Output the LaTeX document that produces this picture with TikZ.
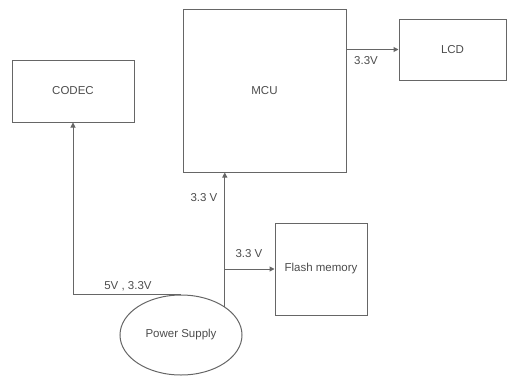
\documentclass[tikz,border=0pt]{standalone}
\usepackage{fontspec}
\setmainfont{Liberation Sans}
\usepackage{tikz}
\usetikzlibrary{shapes,arrows.meta,positioning}
\tikzset{
  blk/.style = {draw=black!60, line width=1pt, rectangle, inner sep=0pt, align=center, text=black!70, font=\fontsize{11.5}{13}\selectfont},
  pwr/.style = {draw=black!60, line width=1pt, ellipse, inner sep=0pt, minimum width=122pt, minimum height=80pt, text=black!70, font=\fontsize{11.5}{13}\selectfont},
  arrow/.style = {draw=black!60, line width=1pt, -{Triangle[length=5pt,width=5pt]}},
  lbl/.style = {text=black!70, font=\fontsize{11.5}{13}\selectfont, inner sep=0pt}
}
\begin{document}
\begin{tikzpicture}[x=1pt,y=-1pt]
            \useasboundingbox (0,0) rectangle (512,378);
            \node[blk, minimum width=122pt, minimum height=62pt] (codec) at (73,91) {CODEC};
            \node[blk, minimum width=163pt, minimum height=163pt] (mcu) at (264.5,90.5) {MCU};
            \node[blk, minimum width=107pt, minimum height=61pt] (lcd) at (452.5,49.5) {LCD};
            \node[blk, minimum width=92pt, minimum height=92pt] (flash) at (321,269) {Flash memory};
            \node[pwr] (ps) at (181,335) {Power Supply};
            \draw[arrow] (mcu.east |- lcd.west) -- (lcd.west);
            \draw[arrow] (ps.north) -| (codec.south);
            \draw[arrow] (ps.33) -- (ps.33 |- mcu.south);
            \draw[arrow] (ps.33 |- flash.west) -- (flash.west);
            \node[lbl] (l1) at (366,61) {3.3V};
            \node[lbl] (l2) at (128,286) {5V , 3.3V};
            \node[lbl] (l3) at (204,198) {3.3 V};
            \node[lbl] (l4) at (249,254) {3.3 V};
        \end{tikzpicture}
\end{document}
